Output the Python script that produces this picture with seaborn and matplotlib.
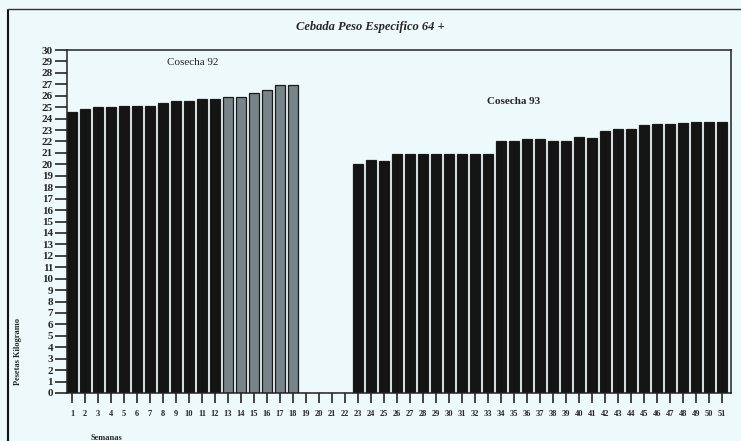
import matplotlib
matplotlib.use("Agg")
import matplotlib.pyplot as plt
from matplotlib.lines import Line2D
import pandas as pd
import seaborn as sns

# Semanas 1..51 ; precio en pesetas por kilogramo
semanas = list(range(1, 52))
cosecha_92 = [24.6, 24.8, 25.0, 25.0, 25.1, 25.1, 25.1, 25.4, 25.5, 25.5,
              25.7, 25.7, 25.9, 25.9, 26.2, 26.5, 26.9, 26.9]
sin_datos = [0, 0, 0, 0]
cosecha_93 = [20.0, 20.4, 20.3, 20.9, 20.9, 20.9, 20.9, 20.9, 20.9, 20.9,
              20.9, 22.0, 22.0, 22.2, 22.2, 22.0, 22.0, 22.4, 22.3, 22.9,
              23.1, 23.1, 23.4, 23.5, 23.5, 23.6, 23.7, 23.7, 23.7]
grupo = ["92"] * 12 + ["92b"] * 6 + ["vacio"] * 4 + ["93"] * 29

bg = "#eef9fb"
df = pd.DataFrame({"semana": semanas,
                   "precio": cosecha_92 + sin_datos + cosecha_93,
                   "grupo": grupo})

sns.set_style("ticks")
plt.rcParams["font.family"] = ["Liberation Serif", "DejaVu Serif"]

fig = plt.figure(figsize=(7.41, 4.41), dpi=100, facecolor=bg)
ax = fig.add_axes([67 / 741, 1 - 393 / 441, (731 - 67) / 741, (393 - 50) / 441])
ax.set_facecolor(bg)

sns.barplot(data=df, x="semana", y="precio", hue="grupo", dodge=False,
            palette={"92": "#141414", "92b": "#74858c", "vacio": "#141414", "93": "#141414"},
            edgecolor="#1a1a1a", linewidth=0.9, width=0.7, legend=False, ax=ax)

ax.set_xlim(-0.385, 50.69)
ax.set_ylim(0, 30)
ax.set_yticks(range(0, 31))
ax.set_yticklabels([str(v) for v in range(0, 31)], fontsize=8, fontweight="bold")
ax.set_xticks(range(51))
ax.set_xticklabels([str(s) for s in semanas], fontsize=6, fontweight="bold")
ax.tick_params(axis="y", length=9, width=1.2, pad=1)
ax.tick_params(axis="x", length=7, width=1.2, pad=5)
for s in ax.spines.values():
    s.set_linewidth(1.1)
    s.set_color("#222222")

ax.set_xlabel("Semanas", fontsize=6, fontweight="bold")
ax.xaxis.set_label_coords(0.06, -0.12)
ax.set_ylabel("Pesetas Kilogramo", fontsize=6, fontweight="bold")
ax.yaxis.set_label_coords(-0.068, 0.12)

ax.text(9.3, 28.9, "Cosecha 92", fontsize=8, ha="center", va="center")
ax.text(34.0, 25.5, "Cosecha 93", fontsize=8, fontweight="bold", ha="center", va="center")

fig.text(0.5, 1 - 27 / 441, "Cebada Peso Especifico 64 +", fontsize=9,
         fontweight="bold", fontstyle="italic", ha="center", va="center")

# borde de la hoja escaneada
fig.add_artist(Line2D([8 / 741, 8 / 741], [0, 1 - 10 / 441], color="#111111", lw=1.5))
fig.add_artist(Line2D([8 / 741, 1], [1 - 9 / 441, 1 - 9 / 441], color="#333333", lw=1.0))

fig.savefig("out.png", dpi=100, facecolor=bg)
